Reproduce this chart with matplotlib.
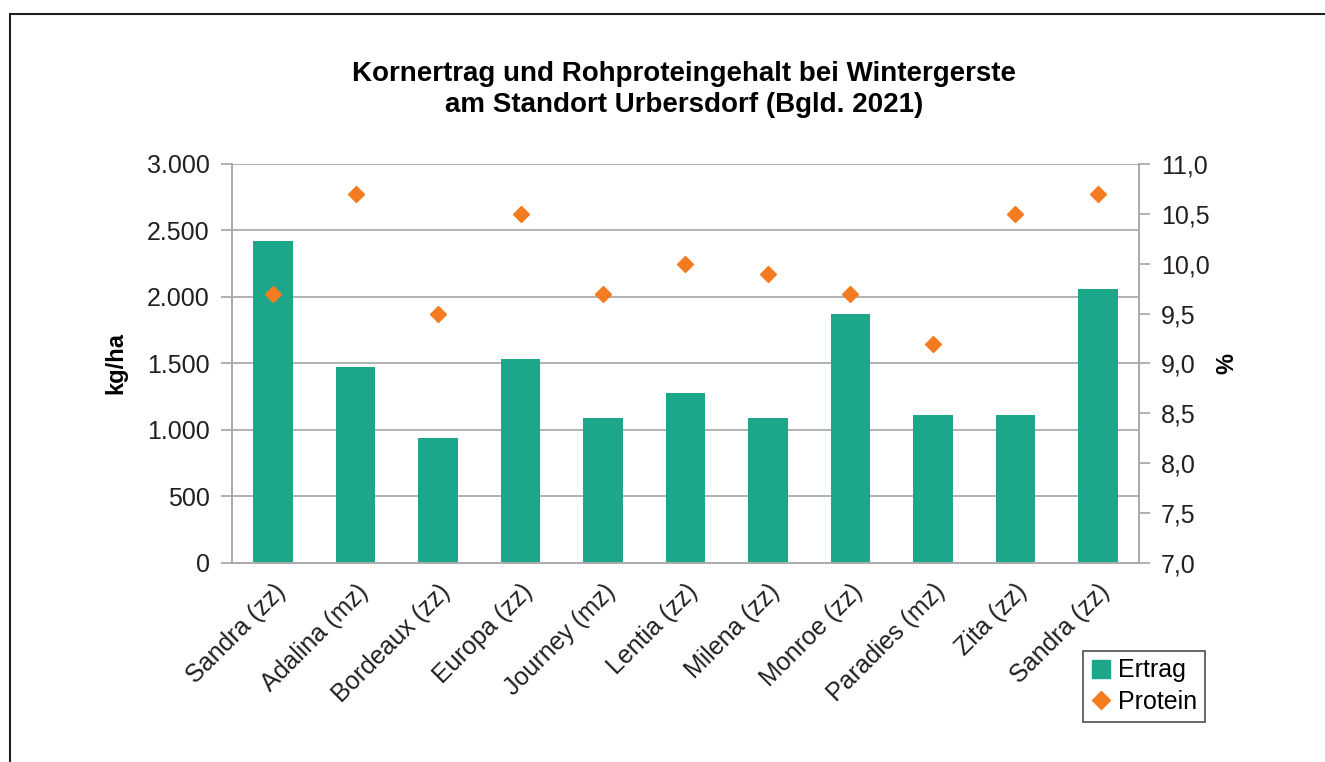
import matplotlib.pyplot as plt
from matplotlib.patches import Rectangle
from matplotlib.lines import Line2D
from matplotlib.ticker import FuncFormatter

plt.rcParams['font.family'] = ['Liberation Sans', 'DejaVu Sans']

sorten = ['Sandra (zz)', 'Adalina (mz)', 'Bordeaux (zz)', 'Europa (zz)', 'Journey (mz)',
          'Lentia (zz)', 'Milena (zz)', 'Monroe (zz)', 'Paradies (mz)', 'Zita (zz)', 'Sandra (zz)']
ertrag = [2420, 1470, 940, 1530, 1090, 1280, 1090, 1870, 1110, 1110, 2060]
protein = [9.7, 10.7, 9.5, 10.5, 9.7, 10.0, 9.9, 9.7, 9.2, 10.5, 10.7]

green = '#1ca78a'
orange = '#f47b20'
grey = '#ababab'

fig = plt.figure(figsize=(13.25, 7.62), dpi=100)
ax = fig.add_axes([0.1751, 0.2612, 0.6845, 0.5236])
ax2 = ax.twinx()

x = list(range(len(sorten)))
ax.bar(x, ertrag, width=0.48, color=green, zorder=2)
ax2.plot(x, protein, linestyle='none', marker='D', markersize=8, color=orange, zorder=3)

ax.set_xlim(-0.5, len(sorten) - 0.5)
ax.set_ylim(0, 3000)
ax.set_yticks(range(0, 3001, 500))
ax.yaxis.set_major_formatter(FuncFormatter(lambda v, p: f'{int(v):,}'.replace(',', '.')))
ax2.set_ylim(7, 11)
ax2.set_yticks([7 + 0.5 * i for i in range(9)])
ax2.yaxis.set_major_formatter(FuncFormatter(lambda v, p: f'{v:.1f}'.replace('.', ',')))

ax.grid(axis='y', color=grey, linewidth=1.3, zorder=0)
ax.set_axisbelow(True)
ax.set_xticks(x)
ax.set_xticklabels(sorten, rotation=45, ha='right', rotation_mode='anchor')

for a in (ax, ax2):
    for s in a.spines.values():
        s.set_color(grey)
        s.set_linewidth(1.3)
    a.spines['top'].set_visible(False)
    a.tick_params(axis='y', labelsize=18, color=grey, width=1.3, length=8, pad=8, labelcolor='#231f20')
ax.tick_params(axis='x', labelsize=18, length=0, pad=12, labelcolor='#231f20')

ax.set_ylabel('kg/ha', fontsize=17, fontweight='bold', labelpad=14)
ax2.set_ylabel('%', fontsize=17, fontweight='bold', labelpad=4)

fig.text(0.516, 0.882, 'Kornertrag und Rohproteingehalt bei Wintergerste\nam Standort Urbersdorf (Bgld. 2021)',
         ha='center', va='center', fontsize=20, fontweight='bold', linespacing=1.25)

# chart frame
fig.patches.append(Rectangle((10 / 1325, -0.1), 1.1, 0.1 + 1 - 14 / 762, transform=fig.transFigure,
                             fill=False, edgecolor='#231f20', linewidth=1.5))

handles = [Line2D([], [], linestyle='none', marker='s', markersize=13, color=green),
           Line2D([], [], linestyle='none', marker='D', markersize=9, color=orange)]
leg = fig.legend(handles, ['Ertrag', 'Protein'], loc='upper left',
                 bbox_to_anchor=(1083 / 1325, 1 - 651 / 762), fontsize=18,
                 frameon=True, fancybox=False, edgecolor='#231f20', handlelength=0.8,
                 handletextpad=0.3, borderpad=0.3, labelspacing=0.3, borderaxespad=0)
leg.get_frame().set_linewidth(1.2)

fig.savefig('out.png', dpi=100)
